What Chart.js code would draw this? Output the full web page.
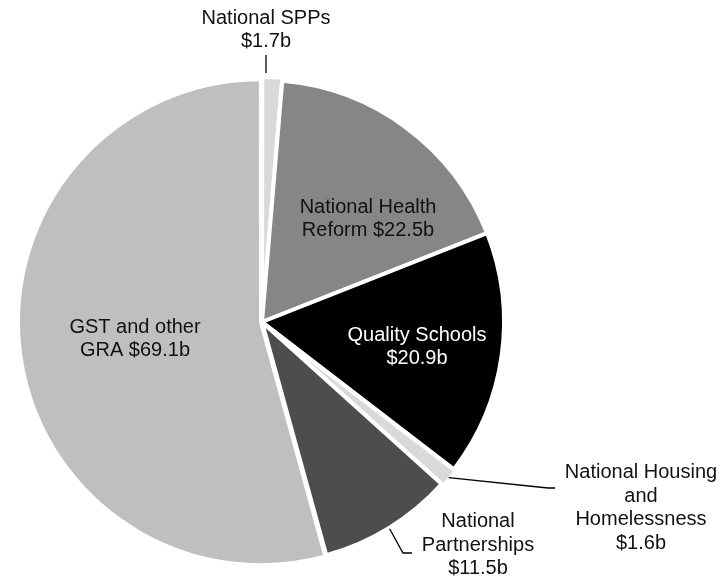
<!DOCTYPE html>
<html>
<head>
<meta charset="utf-8">
<script src="https://cdn.jsdelivr.net/npm/chart.js@4"></script>
<style>
  html, body { margin: 0; padding: 0; background: #fff; }
  #wrap { width: 728px; height: 582px; position: relative; }
</style>
</head>
<body>
<div id="wrap"><canvas id="pie"></canvas></div>
<script>
const categories = ['National SPPs', 'National Health Reform', 'Quality Schools',
  'National Housing and Homelessness', 'National Partnerships', 'GST and other GRA'];
const amounts = [1.7, 22.5, 20.9, 1.6, 11.5, 69.1];
const sliceColours = ['#d9d9d9', '#868686', '#000000', '#d9d9d9', '#4d4d4d', '#bfbfbf'];

// label lines as printed, per slice
const labelLines = [
  ['National SPPs', '$1.7b'],
  ['National Health', 'Reform $22.5b'],
  ['Quality Schools', '$20.9b'],
  ['National Housing', 'and', 'Homelessness', '$1.6b'],
  ['National', 'Partnerships', '$11.5b'],
  ['GST and other', 'GRA $69.1b']
];

// where each label block sits, relative to the pie centre (px), plus leader line bends
const labelPlacement = [
  { dx: 4, dy: -292, colour: '#111', leader: [[4, -267]] },
  { dx: 106, dy: -103, colour: '#111' },
  { dx: 155, dy: 25, colour: '#fff' },
  { dx: 379, dy: 186, colour: '#111', leader: [[286, 166], [293, 166]] },
  { dx: 216, dy: 223, colour: '#111', leader: [[141, 231], [150, 231]] },
  { dx: -127, dy: 17, colour: '#111' }
];

const labelPlugin = {
  id: 'sliceLabels',
  afterDraw(chart) {
    const ctx = chart.ctx;
    const arcs = chart.getDatasetMeta(0).data;
    const lineH = 23.5;
    ctx.save();
    ctx.font = '20px "Liberation Sans", Arial, sans-serif';
    ctx.textAlign = 'center';
    ctx.textBaseline = 'middle';
    arcs.forEach((arc, i) => {
      const p = arc.getProps(['x', 'y', 'startAngle', 'endAngle', 'outerRadius'], true);
      const place = labelPlacement[i];
      const lines = labelLines[i];
      if (place.leader) {
        const mid = (p.startAngle + p.endAngle) / 2;
        const r = p.outerRadius + 1;
        ctx.beginPath();
        ctx.strokeStyle = '#000';
        ctx.lineWidth = 1.3;
        if (i === 0) {
          ctx.moveTo(p.x + place.leader[0][0], p.y + place.leader[0][1]);
          ctx.lineTo(p.x + place.leader[0][0], p.y - r - 6);
        } else {
          ctx.moveTo(p.x + Math.cos(mid) * r, p.y + Math.sin(mid) * r);
          place.leader.forEach(([lx, ly]) => ctx.lineTo(p.x + lx, p.y + ly));
        }
        ctx.stroke();
      }
      ctx.fillStyle = place.colour;
      const top = p.y + place.dy - (lines.length - 1) * lineH / 2;
      lines.forEach((t, k) => ctx.fillText(t, p.x + place.dx, top + k * lineH));
    });
    ctx.restore();
  }
};

new Chart(document.getElementById('pie'), {
  type: 'pie',
  data: {
    labels: categories,
    datasets: [{
      data: amounts,
      backgroundColor: sliceColours,
      borderColor: '#ffffff',
      borderWidth: 4,
      offset: [6, 0, 0, 5, 0, 4]
    }]
  },
  options: {
    responsive: true,
    maintainAspectRatio: false,
    animation: false,
    radius: 242,
    layout: { padding: { left: 17, right: 221, top: 77, bottom: 15 } },
    plugins: {
      legend: { display: false },
      tooltip: { enabled: false }
    }
  },
  plugins: [labelPlugin]
});
</script>
</body>
</html>
